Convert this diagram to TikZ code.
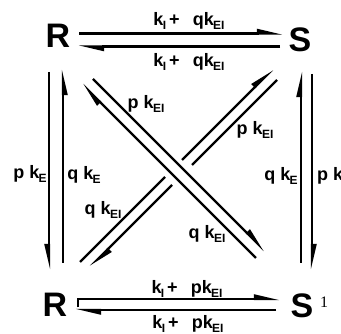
\documentclass[tikz,border=0pt]{standalone}
\usepackage{fontspec}
\setmainfont{Liberation Sans}
\newfontfamily\serifone{Liberation Serif}
\usetikzlibrary{arrows.meta}
\newcommand\kk[1]{k\kern-0.6pt\raisebox{-4pt}{\fontsize{12}{12}\selectfont #1}}
\begin{document}
\begin{tikzpicture}[x=1pt,y=-1pt,
  species/.style={font=\fontsize{34}{34}\selectfont\bfseries, inner sep=0pt},
  rate/.style={font=\fontsize{18}{18}\selectfont\bfseries, inner sep=0pt},
  rx/.style={line width=2.2pt},
  hp/.style={rx,-{Triangle[harpoon,length=21pt,width=9pt]}},
  hps/.style={rx,-{Triangle[harpoon,swap,length=21pt,width=9pt]}},
]
\useasboundingbox (0,0) rectangle (341,334);
% species
\node[species] (R)  at (58,36)  {R};
\node[species] (S)  at (300,40) {S};
\node[species] (R2) at (55,305) {R};
\node[species] (S2) at (302,306) {S};
\node[inner sep=0pt, font=\fontsize{16}{16}\selectfont\serifone] (one) at (324,302) {1};
% coordinates
\coordinate (t1a) at (79,33.5);  \coordinate (t1b) at (283,33.5);
\coordinate (t2a) at (280,46.5); \coordinate (t2b) at (78,46.5);
\coordinate (b1a) at (77,299);   \coordinate (b1b) at (280,299);
\coordinate (b2a) at (276,310);  \coordinate (b2b) at (75,310);
\coordinate (l1a) at (49,72);    \coordinate (l1b) at (49,270);
\coordinate (l2a) at (63,263);   \coordinate (l2b) at (63,69);
\coordinate (r1a) at (312,74);   \coordinate (r1b) at (312,270);
\coordinate (r2a) at (301,263);  \coordinate (r2b) at (301,71);
\coordinate (da1) at (93,79);    \coordinate (da2) at (265,251);
\coordinate (db1) at (256,258);  \coordinate (db2) at (82,84);
\coordinate (dc1) at (80,262);   \coordinate (dc2) at (165,177);
\coordinate (dc3) at (182,160);  \coordinate (dc4) at (273,69);
\coordinate (dd1) at (277,80);   \coordinate (dd2) at (192,165);
\coordinate (dd3) at (172,185);  \coordinate (dd4) at (90,267);
% horizontal
\draw[hp] (t1a) -- (t1b);
\draw[hp] (t2a) -- (t2b);
\draw[rx,{Bar[harpoon,width=17pt,line width=1.6pt]}-{Triangle[harpoon,length=21pt,width=9pt]}] (b1a) -- (b1b);
\draw[hp] (b2a) -- (b2b);
% vertical
\draw[hps] (l1a) -- (l1b);
\draw[hps] (l2a) -- (l2b);
\draw[hp] (r1a) -- (r1b);
\draw[hp] (r2a) -- (r2b);
% diagonals
\draw[hp] (da1) -- (da2);
\draw[hp] (db1) -- (db2);
\draw[rx] (dc1) -- (dc2);
\draw[hp] (dc3) -- (dc4);
\draw[rx] (dd1) -- (dd2);
\draw[hp] (dd3) -- (dd4);
% rate labels
\node[rate] (lt1) at (189,21)  {\kk{I}\hspace{3pt}+\hspace{13pt}q\kk{EI}};
\node[rate] (lt2) at (189,62)  {\kk{I}\hspace{3pt}+\hspace{13pt}q\kk{EI}};
\node[rate] (lb1) at (187,289) {\kk{I}\hspace{3pt}+\hspace{13pt}p\kk{EI}};
\node[rate] (lb2) at (188,324) {\kk{I}\hspace{3pt}+\hspace{13pt}p\kk{EI}};
\node[rate] (ll1) at (30,174)  {p \kk{E}};
\node[rate] (ll2) at (84,175)  {q \kk{E}};
\node[rate] (lr1) at (281,176) {q \kk{E}};
\node[rate,anchor=west] (lr2) at (317,176) {p \kk{E}};
\node[rate] (ld1) at (146,104) {p \kk{EI}};
\node[rate] (ld2) at (255,130) {p \kk{EI}};
\node[rate] (ld3) at (103,210) {q \kk{EI}};
\node[rate] (ld4) at (207,234) {q \kk{EI}};
\end{tikzpicture}
\end{document}
